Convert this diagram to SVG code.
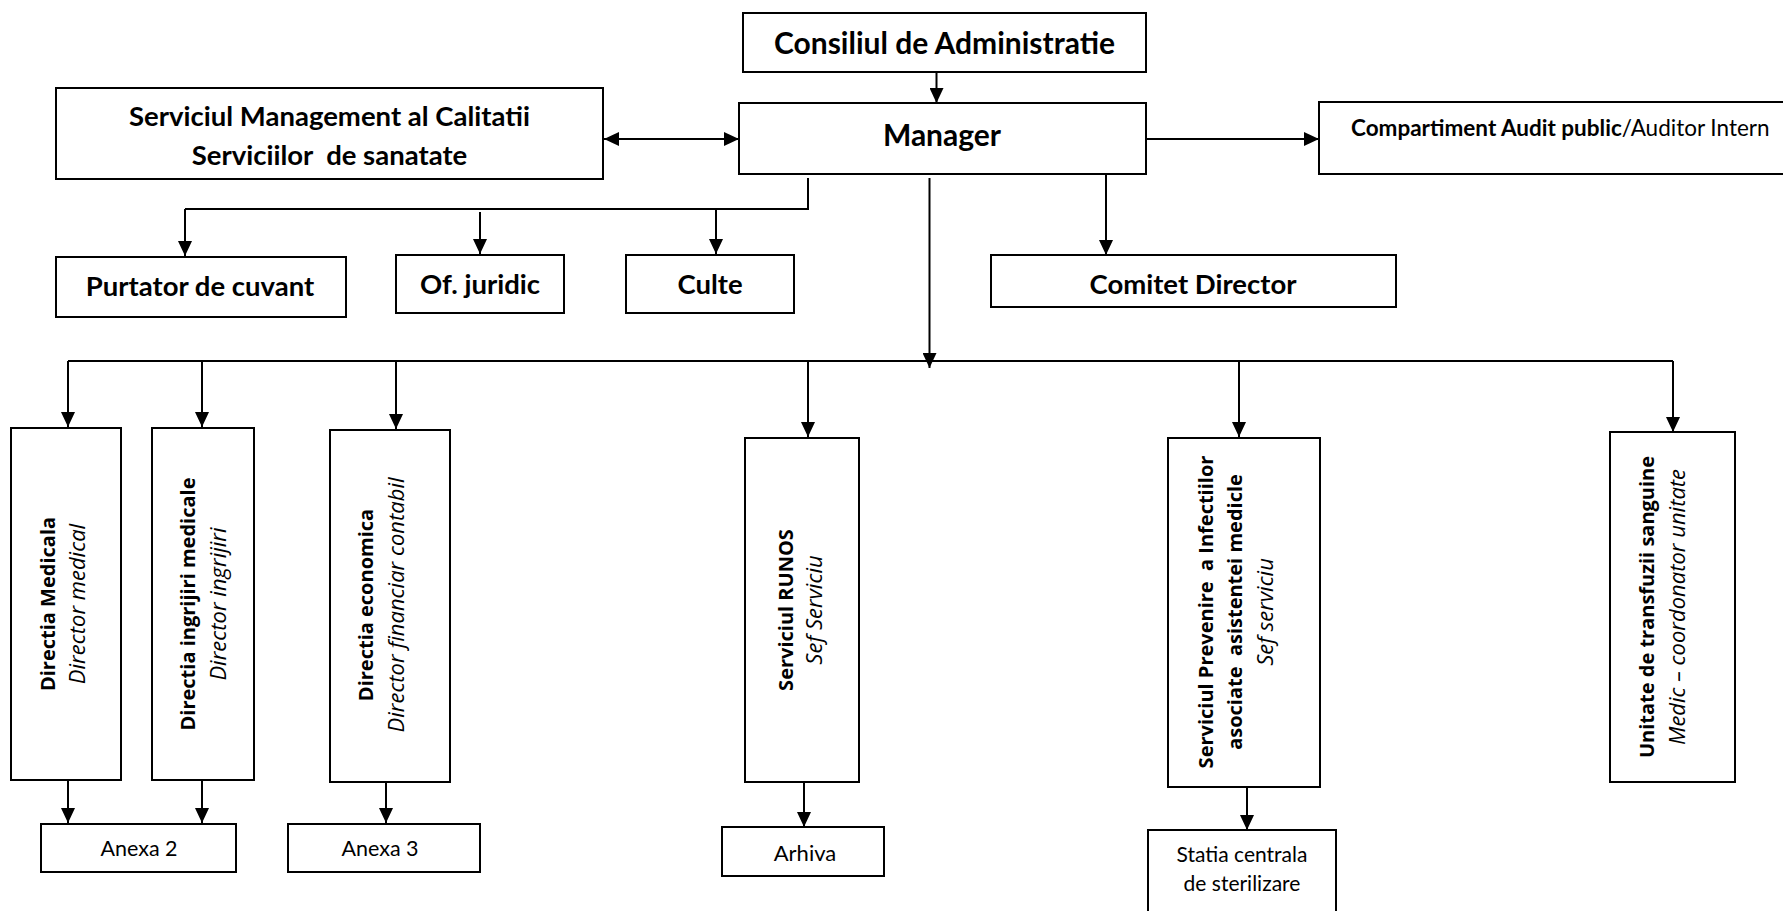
<svg xmlns="http://www.w3.org/2000/svg" width="1783" height="911" viewBox="0 0 1783 911">
<style>
.box{fill:#fff;stroke:#000;stroke-width:2}
.ln{fill:none;stroke:#000;stroke-width:2}
.ar{marker-end:url(#ah)}
.t{font-family:Lato,"Liberation Sans",sans-serif;fill:#000;text-anchor:middle}
.b{font-weight:bold}
.v{font-family:"Open Sans","DejaVu Sans",sans-serif;fill:#000;text-anchor:middle;font-size:20px}
.i{font-style:italic;font-size:22px}
</style>
<defs>
<marker id="ah" markerUnits="userSpaceOnUse" markerWidth="16" markerHeight="14" refX="15" refY="7" orient="auto-start-reverse">
<path d="M0,0 L15,7 L0,14 z" fill="#000"/>
</marker>
</defs>
<rect width="1783" height="911" fill="#fff"/>

<g id="connectors">
<path class="ln ar" d="M936.5,72 V103"/>
<path class="ln ar" d="M604,139 H739" style="marker-start:url(#ah)"/>
<path class="ln ar" d="M1146,139 H1319"/>
<path class="ln ar" d="M1106,174 V255"/>
<path class="ln" d="M808,178 V209 H185"/>
<path class="ln ar" d="M185,209 V256"/>
<path class="ln ar" d="M480,212 V254"/>
<path class="ln ar" d="M716,209 V254"/>
<path class="ln ar" d="M929.5,178 V368"/>
<path class="ln" d="M68,361 H1673"/>
<path class="ln ar" d="M68,361 V427"/>
<path class="ln ar" d="M202,361 V427"/>
<path class="ln ar" d="M396,361 V429"/>
<path class="ln ar" d="M808,361 V437"/>
<path class="ln ar" d="M1239,361 V437"/>
<path class="ln ar" d="M1673,361 V432"/>
<path class="ln ar" d="M68,780 V823"/>
<path class="ln ar" d="M202,780 V823"/>
<path class="ln ar" d="M386,782 V823"/>
<path class="ln ar" d="M804,782 V827"/>
<path class="ln ar" d="M1247,787 V830"/>
</g>

<g id="consiliul">
<rect class="box" x="743" y="13" width="403" height="59"/>
<text class="t b" x="944.5" y="54" font-size="30">Consiliul de Administratie</text>
</g>
<g id="manager">
<rect class="box" x="739" y="103" width="407" height="71"/>
<text class="t b" x="942" y="146" font-size="30">Manager</text>
</g>
<g id="management-calitate">
<rect class="box" x="56" y="88" width="547" height="91"/>
<text class="t b" x="329.5" y="126" font-size="27.5">Serviciul Management al Calitatii</text>
<text class="t b" x="329.5" y="165" font-size="27.5" xml:space="preserve">Serviciilor  de sanatate</text>
</g>
<g id="audit">
<rect class="box" x="1319" y="102" width="470" height="72"/>
<text class="t" x="1351" y="136" font-size="22.5" style="text-anchor:start"><tspan class="b">Compartiment Audit public</tspan>/Auditor Intern</text>
</g>
<g id="comitet">
<rect class="box" x="991" y="255" width="405" height="52"/>
<text class="t b" x="1193" y="294" font-size="27.5">Comitet Director</text>
</g>
<g id="purtator">
<rect class="box" x="56" y="257" width="290" height="60"/>
<text class="t b" x="200" y="296" font-size="27.5">Purtator de cuvant</text>
</g>
<g id="juridic">
<rect class="box" x="396" y="255" width="168" height="58"/>
<text class="t b" x="480" y="294" font-size="27.5">Of. juridic</text>
</g>
<g id="culte">
<rect class="box" x="626" y="255" width="168" height="58"/>
<text class="t b" x="710" y="294" font-size="27.5">Culte</text>
</g>

<g id="directia-medicala">
<rect class="box" x="11" y="428" width="110" height="352"/>
<g transform="translate(0,604) rotate(-90)">
<text class="v b" x="0" y="55">Directia Medicala</text>
<text class="v i" x="0" y="85">Director medical</text>
</g>
</g>
<g id="directia-ingrijiri">
<rect class="box" x="152" y="428" width="102" height="352"/>
<g transform="translate(0,604) rotate(-90)">
<text class="v b" x="0" y="195">Directia ingrijiri medicale</text>
<text class="v i" x="0" y="226">Director ingrijiri</text>
</g>
</g>
<g id="directia-economica">
<rect class="box" x="330" y="430" width="120" height="352"/>
<g transform="translate(0,605) rotate(-90)">
<text class="v b" x="0" y="373">Directia economica</text>
<text class="v i" x="0" y="404">Director financiar contabil</text>
</g>
</g>
<g id="runos">
<rect class="box" x="745" y="438" width="114" height="344"/>
<g transform="translate(0,610) rotate(-90)">
<text class="v b" x="0" y="793">Serviciul RUNOS</text>
<text class="v i" x="0" y="822">Sef Serviciu</text>
</g>
</g>
<g id="prevenire-infectii">
<rect class="box" x="1168" y="438" width="152" height="349"/>
<g transform="translate(0,612) rotate(-90)">
<text class="v b" x="0" y="1213" xml:space="preserve">Serviciul Prevenire  a Infectiilor</text>
<text class="v b" x="0" y="1242" xml:space="preserve">asociate  asistentei medicle</text>
<text class="v i" x="0" y="1273">Sef serviciu</text>
</g>
</g>
<g id="transfuzii">
<rect class="box" x="1610" y="432" width="125" height="350"/>
<g transform="translate(0,607) rotate(-90)">
<text class="v b" x="0" y="1654">Unitate de transfuzii sanguine</text>
<text class="v i" x="0" y="1685">Medic – coordonator unitate</text>
</g>
</g>

<g id="anexa2">
<rect class="box" x="41" y="824" width="195" height="48"/>
<text class="t" x="139" y="856" font-size="21.5">Anexa 2</text>
</g>
<g id="anexa3">
<rect class="box" x="288" y="824" width="192" height="48"/>
<text class="t" x="380" y="856" font-size="21.5">Anexa 3</text>
</g>
<g id="arhiva">
<rect class="box" x="722" y="827" width="162" height="49"/>
<text class="t" x="805" y="861" font-size="22">Arhiva</text>
</g>
<g id="statia">
<rect class="box" x="1148" y="830" width="188" height="95"/>
<text class="t" x="1242" y="862" font-size="21">Statia centrala</text>
<text class="t" x="1242" y="891" font-size="21">de sterilizare</text>
</g>
</svg>
